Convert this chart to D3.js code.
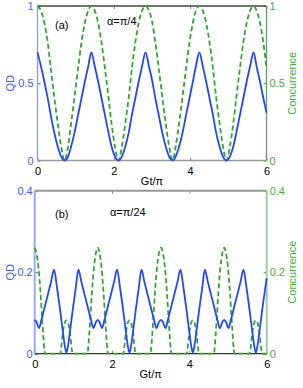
<!DOCTYPE html>
<html>
<head>
<meta charset="utf-8">
<script src="https://cdn.jsdelivr.net/npm/d3@7/dist/d3.min.js"></script>
<style>
body { margin: 0; background: #fff; }
svg { display: block; font-family: "Liberation Sans", Arial, sans-serif; }
</style>
</head>
<body>
<svg id="chart"></svg>
<script>
// tick labels
var xTicks = [0, 2, 4, 6];
var yTicksA = [0, 0.5, 1];
var yTicksB = [0, 0.2, 0.4];

// panel (a), alpha = pi/4
var tA = [0.00,0.09,0.18,0.27,0.35,0.44,0.53,0.62,0.71,0.80,0.88,0.97,1.06,1.15,1.24,1.33,1.41,
          1.50,1.59,1.68,1.77,1.86,1.94,2.03,2.12,2.21,2.30,2.39,2.47,2.56,2.65,2.74,2.83,
          2.92,3.01,3.09,3.18,3.27,3.36,3.45,3.54,3.62,3.71,3.80,3.89,3.98,4.07,4.15,4.24,
          4.33,4.42,4.51,4.60,4.68,4.77,4.86,4.95,5.04,5.13,5.21,5.30,5.39,5.48,5.57,5.66,
          5.74,5.83,5.92,6.00];
var qdA = [0.70,0.61,0.51,0.40,0.29,0.18,0.09,0.025,0.00,0.025,0.09,0.18,0.29,0.40,0.51,0.61,0.70,
           0.61,0.51,0.40,0.29,0.18,0.09,0.025,0.00,0.025,0.09,0.18,0.29,0.40,0.51,0.61,0.70,
           0.61,0.51,0.40,0.29,0.18,0.09,0.025,0.00,0.025,0.09,0.18,0.29,0.40,0.51,0.61,0.70,
           0.61,0.51,0.40,0.29,0.18,0.09,0.025,0.00,0.025,0.09,0.18,0.29,0.40,0.51,0.61,0.70,
           0.61,0.51,0.40,0.31];
var concA = [1.00,0.97,0.89,0.76,0.59,0.41,0.24,0.09,0.00,0.09,0.24,0.41,0.59,0.76,0.89,0.97,1.00,
             0.97,0.89,0.76,0.59,0.41,0.24,0.09,0.00,0.09,0.24,0.41,0.59,0.76,0.89,0.97,1.00,
             0.97,0.89,0.76,0.59,0.41,0.24,0.09,0.00,0.09,0.24,0.41,0.59,0.76,0.89,0.97,1.00,
             0.97,0.89,0.76,0.59,0.41,0.24,0.09,0.00,0.09,0.24,0.41,0.59,0.76,0.89,0.97,1.00,
             0.97,0.89,0.76,0.60];

// panel (b), alpha = pi/24
var tBq = [0.00,0.05,0.11,0.18,0.26,0.34,0.42,0.50,0.58,0.66,0.74,0.78,0.82,0.86,0.90,0.98,1.06,1.13,1.21,1.29,1.37,1.45,1.52,1.58,
           1.63,1.68,1.74,1.81,1.89,1.97,2.05,2.13,2.21,2.29,2.37,2.41,2.45,2.49,2.53,2.61,2.69,2.76,2.84,2.92,3.00,3.08,3.15,3.21,
           3.27,3.32,3.38,3.45,3.53,3.61,3.69,3.77,3.85,3.93,4.01,4.05,4.09,4.13,4.17,4.25,4.33,4.40,4.48,4.56,4.64,4.72,4.79,4.85,
           4.90,4.95,5.01,5.08,5.16,5.24,5.32,5.40,5.48,5.56,5.64,5.68,5.72,5.76,5.80,5.88,5.96,6.00];
var qdB = [0.083,0.077,0.063,0.085,0.115,0.145,0.175,0.206,0.160,0.105,0.045,0.018,0.003,0.018,0.045,0.105,0.160,0.206,0.175,0.145,0.115,0.085,0.063,0.077,
           0.083,0.077,0.063,0.085,0.115,0.145,0.175,0.206,0.160,0.105,0.045,0.018,0.003,0.018,0.045,0.105,0.160,0.206,0.175,0.145,0.115,0.085,0.063,0.077,
           0.083,0.077,0.063,0.085,0.115,0.145,0.175,0.206,0.160,0.105,0.045,0.018,0.003,0.018,0.045,0.105,0.160,0.206,0.175,0.145,0.115,0.085,0.063,0.077,
           0.083,0.077,0.063,0.085,0.115,0.145,0.175,0.206,0.160,0.105,0.045,0.018,0.003,0.018,0.045,0.105,0.160,0.185];
var tBc = [0.00,0.05,0.10,0.15,0.20,0.25,0.27,0.66,0.68,0.72,0.77,0.82,0.87,0.92,0.96,0.98,1.37,1.38,1.43,1.48,1.53,1.58,
           1.63,1.68,1.73,1.78,1.83,1.88,1.90,2.29,2.31,2.35,2.40,2.45,2.50,2.55,2.59,2.61,3.00,3.01,3.06,3.11,3.16,3.21,
           3.27,3.32,3.37,3.42,3.47,3.52,3.54,3.93,3.95,3.99,4.04,4.09,4.14,4.19,4.23,4.25,4.64,4.65,4.70,4.75,4.80,4.85,
           4.90,4.95,5.00,5.05,5.10,5.15,5.17,5.56,5.58,5.62,5.67,5.72,5.77,5.82,5.86,5.88,6.00];
var concB = [0.26,0.245,0.21,0.15,0.075,0.01,0,0,0.01,0.045,0.074,0.082,0.074,0.045,0.01,0,0,0.01,0.075,0.15,0.21,0.245,
             0.26,0.245,0.21,0.15,0.075,0.01,0,0,0.01,0.045,0.074,0.082,0.074,0.045,0.01,0,0,0.01,0.075,0.15,0.21,0.245,
             0.26,0.245,0.21,0.15,0.075,0.01,0,0,0.01,0.045,0.074,0.082,0.074,0.045,0.01,0,0,0.01,0.075,0.15,0.21,0.245,
             0.26,0.245,0.21,0.15,0.075,0.01,0,0,0.01,0.045,0.074,0.082,0.074,0.045,0.01,0,0];

var BLUE = "#2347ff", GREEN = "#2fa82a";

var svg = d3.select("#chart").attr("width", 303).attr("height", 388);

//Panel (a)
drawPanel(svg, {
    left: 37.5, right: 266.5, top: 6, bottom: 160.5,
    yTicks: yTicksA, fmt: d3.format(""), padL: 4,
    qd: d3.zip(tA, qdA), conc: d3.zip(tA, concA),
    tag: "(a)", tagX: 55, tagY: 29,
    alpha: "\u03b1=\u03c0/4", alphaX: 107, alphaY: 25,
    topColor: "#444", bottomColor: "#999", leftColor: "#8a9aff", rightColor: "#5f9f6f", edgeW: 1.3
});

//Panel (b)
drawPanel(svg, {
    left: 34.7, right: 266.7, top: 190.7, bottom: 353.7,
    yTicks: yTicksB, fmt: d3.format(".1~f"), padL: 2,
    qd: d3.zip(tBq, qdB), conc: d3.zip(tBc, concB),
    tag: "(b)", tagX: 55, tagY: 218,
    alpha: "\u03b1=\u03c0/24", alphaX: 110, alphaY: 216,
    topColor: "#999", bottomColor: "#333", leftColor: "#9aa8ff", rightColor: "#9ccfa6", edgeW: 2
});

function drawPanel(svg, p) {
    var x = d3.scaleLinear().domain([0, 6]).range([p.left, p.right]);
    var yMax = p.yTicks[p.yTicks.length - 1];
    var y = d3.scaleLinear().domain([0, yMax]).range([p.bottom, p.top]);
    var g = svg.append("g");

    //x axis labels + inward ticks
    var xb = g.append("g").attr("transform", "translate(0," + p.bottom + ")")
        .call(d3.axisBottom(x).tickValues(xTicks).tickFormat(d3.format("d"))
            .tickSizeInner(-3).tickSizeOuter(0).tickPadding(7));
    var xt = g.append("g").attr("transform", "translate(0," + p.top + ")")
        .call(d3.axisTop(x).tickValues(xTicks).tickSizeInner(-3).tickSizeOuter(0).tickFormat(""));
    //left (QD) and right (Concurrence) axes
    var yl = g.append("g").attr("transform", "translate(" + p.left + ",0)")
        .call(d3.axisLeft(y).tickValues(p.yTicks).tickFormat(p.fmt).tickSizeInner(-3).tickSizeOuter(0).tickPadding(p.padL));
    var yr = g.append("g").attr("transform", "translate(" + p.right + ",0)")
        .call(d3.axisRight(y).tickValues(p.yTicks).tickFormat(p.fmt).tickSizeInner(-3).tickSizeOuter(0).tickPadding(3));

    [xb, xt, yl, yr].forEach(function (a) {
        a.select(".domain").remove();
        a.selectAll("text").style("font-size", "11px").style("font-family", "Liberation Sans, Arial, sans-serif");
    });
    xb.selectAll("line").attr("stroke", "#888");
    xt.selectAll("line").attr("stroke", "#888");
    xb.selectAll("text").attr("fill", "#000");
    yl.selectAll("line").attr("stroke", BLUE);
    yl.selectAll("text").attr("fill", "#3a5cff");
    yr.selectAll("line").attr("stroke", GREEN);
    yr.selectAll("text").attr("fill", "#3db02a");

    //box
    drawLine(g, p.left, p.top, p.right, p.top, p.topColor, p.edgeW);
    drawLine(g, p.left, p.bottom, p.right, p.bottom, p.bottomColor, 1.3);
    drawLine(g, p.left, p.top, p.left, p.bottom, p.leftColor, p.edgeW);
    drawLine(g, p.right, p.top, p.right, p.bottom, p.rightColor, p.edgeW);

    var line = d3.line()
        .x(function (d) { return x(d[0]); })
        .y(function (d) { return y(d[1]); })
        .curve(d3.curveMonotoneX);

    //Concurrence (dashed green)
    g.append("path").datum(p.conc)
        .attr("d", line).attr("fill", "none")
        .attr("stroke", GREEN).attr("stroke-width", 1.8)
        .attr("stroke-dasharray", "5,3");
    //QD (solid blue)
    g.append("path").datum(p.qd)
        .attr("d", line).attr("fill", "none")
        .attr("stroke", BLUE).attr("stroke-width", 1.8);

    //texts
    drawText(g, p.tagX, p.tagY, p.tag, "#000", "start");
    drawText(g, p.alphaX, p.alphaY, p.alpha, "#000", "start");
    drawText(g, (p.left + p.right) / 2, p.bottom + 24.5, "Gt/\u03c0", "#000", "middle");

    var mid = (p.top + p.bottom) / 2;
    g.append("text")
        .attr("transform", "translate(14," + mid + ") rotate(-90)")
        .attr("text-anchor", "middle")
        .style("font-size", "11px").attr("fill", "#3a5cff")
        .text("QD");
    g.append("text")
        .attr("transform", "translate(295.5," + mid + ") rotate(-90)")
        .attr("text-anchor", "middle")
        .style("font-size", "11px").attr("fill", "#3db02a")
        .text("Concurrence");
}

function drawLine(g, x1, y1, x2, y2, color, w) {
    g.append("line")
        .attr("x1", x1).attr("y1", y1)
        .attr("x2", x2).attr("y2", y2)
        .attr("stroke", color).attr("stroke-width", w);
}

function drawText(g, x, y, text, color, anchor) {
    g.append("text")
        .attr("x", x).attr("y", y)
        .attr("fill", color)
        .attr("text-anchor", anchor)
        .style("font-size", "11px")
        .text(text);
}
</script>
</body>
</html>
